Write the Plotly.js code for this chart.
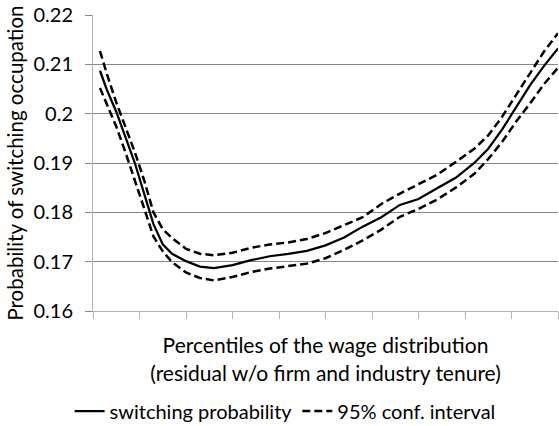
<!DOCTYPE html>
<html>
<head>
<meta charset="utf-8">
<script src="https://cdn.plot.ly/plotly-3.0.1.min.js"></script>
<style>html,body{margin:0;padding:0;background:#fff;}#chart{width:559px;height:426px;}</style>
</head>
<body>
<div id="chart"></div>
<script>
// Percentiles of the wage distribution
var percentiles = [1.5, 3, 5, 7, 9, 11, 13, 15, 17, 20, 23, 26, 30, 34, 38, 42, 46, 50, 54, 58, 62, 66, 70, 74, 78, 82, 85, 88, 91, 94, 97, 100];
// Switching probability (point estimate)
var switchingProb = [0.2087, 0.2048, 0.2004, 0.1953, 0.1900, 0.1838, 0.1776, 0.1735, 0.1716, 0.1701, 0.1690, 0.1687, 0.1693, 0.1703, 0.1711, 0.1716, 0.1722, 0.1733, 0.1749, 0.1771, 0.1790, 0.1815, 0.1827, 0.1849, 0.1870, 0.1900, 0.1929, 0.1968, 0.2013, 0.2058, 0.2097, 0.2132];
// 95% confidence interval, upper bound
var ciUpper = [0.2127, 0.2080, 0.2023, 0.1971, 0.1922, 0.1865, 0.1800, 0.1766, 0.1748, 0.1726, 0.1716, 0.1713, 0.1718, 0.1728, 0.1735, 0.1739, 0.1746, 0.1758, 0.1774, 0.1790, 0.1817, 0.1838, 0.1857, 0.1876, 0.1902, 0.1929, 0.1956, 0.1994, 0.2038, 0.2081, 0.2126, 0.2163];
// 95% confidence interval, lower bound
var ciLower = [0.2052, 0.2020, 0.1974, 0.1921, 0.1866, 0.1808, 0.1751, 0.1721, 0.1699, 0.1678, 0.1667, 0.1662, 0.1669, 0.1679, 0.1686, 0.1691, 0.1696, 0.1707, 0.1724, 0.1743, 0.1765, 0.1791, 0.1807, 0.1826, 0.1850, 0.1878, 0.1908, 0.1943, 0.1984, 0.2021, 0.2060, 0.2093];
var xTickVals = [0, 10, 20, 30, 40, 50, 60, 70, 80, 90, 100];
var yTickVals = [0.16, 0.17, 0.18, 0.19, 0.20, 0.21, 0.22];

var FONT = 'Lato, "Open Sans", sans-serif';
var dashStyle = '8px,4px';

var traces = [
  {x: percentiles, y: switchingProb, type: 'scatter', mode: 'lines', name: 'switching probability',
   line: {color: '#000', width: 2.25}},
  {x: percentiles, y: ciUpper, type: 'scatter', mode: 'lines', name: '95% conf. interval',
   legendgroup: 'ci', line: {color: '#000', width: 2.5, dash: dashStyle}},
  {x: percentiles, y: ciLower, type: 'scatter', mode: 'lines', name: '95% conf. interval',
   legendgroup: 'ci', showlegend: false, line: {color: '#000', width: 2.5, dash: dashStyle}}
];

var layout = {
  width: 559, height: 426,
  margin: {l: 93, r: 1, t: 15, b: 115},
  paper_bgcolor: '#fff', plot_bgcolor: '#fff',
  font: {family: FONT, size: 20, color: '#000'},
  showlegend: true,
  legend: {orientation: 'h', xref: 'container', yref: 'container', x: 0.51, xanchor: 'center',
           y: 0.035, yanchor: 'middle', font: {family: FONT, size: 20, color: '#000'},
           itemwidth: 30, tracegroupgap: 0, bgcolor: 'rgba(0,0,0,0)'},
  xaxis: {
    range: [0, 100], tickmode: 'array', tickvals: xTickVals, showticklabels: false,
    ticks: 'outside', ticklen: 7, tickcolor: '#b3b3b3', tickwidth: 1,
    showgrid: false, zeroline: false, showline: true, linecolor: '#b3b3b3', linewidth: 1,
    title: {text: 'Percentiles of the wage distribution<br>(residual w/o firm and industry tenure)',
            font: {family: FONT, size: 21, color: '#000'}, standoff: 20},
    fixedrange: true
  },
  yaxis: {
    range: [0.16, 0.22], tickmode: 'array', tickvals: yTickVals,
    ticks: 'outside', ticklen: 7, tickcolor: '#868686', tickwidth: 1, ticklabelstandoff: 8,
    showgrid: true, gridcolor: '#868686', gridwidth: 1,
    zeroline: false, showline: true, linecolor: '#b3b3b3', linewidth: 1,
    tickfont: {family: FONT, size: 20, color: '#000'},
    title: {text: 'Probability of switching occupation', font: {family: FONT, size: 20.5, color: '#000'}, standoff: 4},
    fixedrange: true
  }
};

Plotly.newPlot('chart', traces, layout, {displayModeBar: false, staticPlot: true});
</script>
</body>
</html>
